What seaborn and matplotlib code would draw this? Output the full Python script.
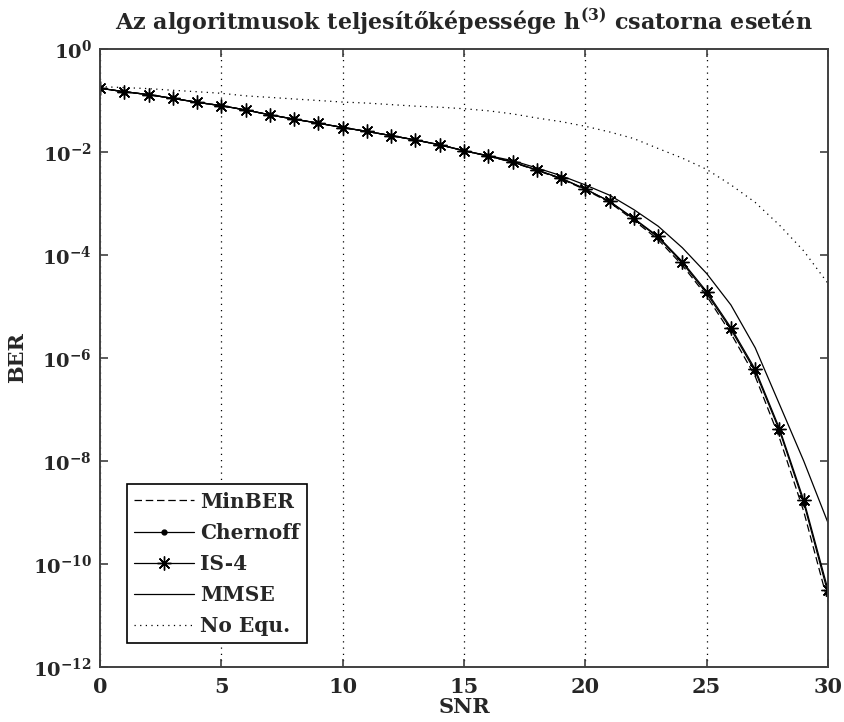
import math
import matplotlib
matplotlib.use("Agg")
import matplotlib.pyplot as plt
import matplotlib.ticker as mticker
import seaborn as sns
import pandas as pd

# === Data ===
snr = list(range(0, 31))

ber_minber = [0.173, 0.148, 0.130, 0.110, 0.0923, 0.0793, 0.0655, 0.0527, 0.0434, 0.0363,
              0.0299, 0.0251, 0.0208, 0.0171, 0.0138, 0.0106, 8.3e-3, 6.3e-3, 4.4e-3, 3.0e-3,
              1.85e-3, 1.05e-3, 4.7e-4, 2.0e-4, 6.3e-5, 1.6e-5, 3.0e-6, 4.4e-7, 2.8e-8, 1.05e-9,
              1.8e-11]
ber_chernoff = [0.173, 0.148, 0.130, 0.110, 0.0923, 0.0793, 0.0655, 0.0527, 0.0434, 0.0363,
                0.0299, 0.0251, 0.0208, 0.0171, 0.0138, 0.0106, 8.36e-3, 6.4e-3, 4.47e-3, 3.09e-3,
                1.9e-3, 1.1e-3, 5.0e-4, 2.2e-4, 7.0e-5, 1.8e-5, 3.6e-6, 5.5e-7, 3.9e-8, 1.55e-9,
                2.7e-11]
ber_is4 = [0.173, 0.148, 0.130, 0.110, 0.0923, 0.0793, 0.0655, 0.0527, 0.0434, 0.0363,
           0.0299, 0.0251, 0.0208, 0.0171, 0.0138, 0.0106, 8.36e-3, 6.4e-3, 4.47e-3, 3.09e-3,
           1.91e-3, 1.1e-3, 5.13e-4, 2.29e-4, 7.41e-5, 1.95e-5, 3.89e-6, 6.03e-7, 4.27e-8, 1.74e-9,
           3.16e-11]
ber_mmse = [0.173, 0.148, 0.130, 0.110, 0.0923, 0.0793, 0.0655, 0.0527, 0.0434, 0.0363,
            0.0299, 0.0251, 0.0208, 0.0171, 0.0138, 0.0106, 8.5e-3, 6.8e-3, 4.9e-3, 3.47e-3,
            2.29e-3, 1.45e-3, 7.6e-4, 3.63e-4, 1.38e-4, 4.37e-5, 1.07e-5, 1.58e-6, 1.26e-7, 1.0e-8,
            6.3e-10]
ber_noeq = [0.186, 0.178, 0.170, 0.158, 0.148, 0.138, 0.123, 0.115, 0.107, 0.100,
            0.0933, 0.0891, 0.0832, 0.0776, 0.0741, 0.0692, 0.0631, 0.0550, 0.0457, 0.0389,
            0.0316, 0.0245, 0.0182, 0.0117, 7.6e-3, 4.6e-3, 2.3e-3, 1.05e-3, 3.8e-4, 1.2e-4,
            2.8e-5]

series_names = ["MinBER", "Chernoff", "IS-4", "MMSE", "No Equ."]
series_values = [ber_minber, ber_chernoff, ber_is4, ber_mmse, ber_noeq]
series_styles = [
    dict(linestyle=(0, (6, 3)), marker=None),
    dict(linestyle="-", marker="o", markersize=3.5),
    dict(linestyle="-", marker=(8, 2, 0), markersize=10),   # asterisk, like matlab '*'
    dict(linestyle="-", marker=None),
    dict(linestyle=(0, (1, 3.5)), marker=None),
]

# === Style ===
sns.set_style("ticks")
plt.rcParams["font.family"] = ["DejaVu Serif"]
plt.rcParams["font.weight"] = "bold"
plt.rcParams["mathtext.fontset"] = "dejavuserif"

fig = plt.figure(figsize=(8.44, 7.22), dpi=100)
ax = fig.add_axes([100 / 844, 1 - 667 / 722, 728 / 844, 618 / 722])

for name, vals, st in zip(series_names, series_values, series_styles):
    df = pd.DataFrame({"SNR": snr, "BER": vals})
    sns.lineplot(data=df, x="SNR", y="BER", ax=ax, color="black", linewidth=0.9,
                 label=name, markeredgewidth=1.0, markeredgecolor="black",
                 markerfacecolor="black", **st)

ax.set_yscale("log")
ax.set_xlim(0, 30)
ax.set_ylim(1e-12, 1)
ax.set_xticks(range(0, 31, 5))
ax.yaxis.set_major_locator(mticker.FixedLocator([10.0 ** -k for k in range(0, 13, 2)]))
ax.yaxis.set_minor_locator(mticker.NullLocator())
ax.yaxis.set_major_formatter(mticker.FuncFormatter(
    lambda v, p: r"$\mathbf{10^{%d}}$" % round(math.log10(v))))
ax.xaxis.set_major_formatter(mticker.FuncFormatter(lambda v, p: "%d" % v))

ax.tick_params(direction="in", length=6, width=1.2, top=True, right=True,
               color="#404040")
ax.tick_params(axis="x", labelsize=15, pad=7)
ax.tick_params(axis="y", labelsize=14, pad=6)
for lab in ax.get_xticklabels() + ax.get_yticklabels():
    lab.set_fontweight("bold")
for s in ax.spines.values():
    s.set_color("#404040")
    s.set_linewidth(1.4)

ax.xaxis.grid(True, linestyle=(0, (1, 4)), color="black", linewidth=0.9)
ax.yaxis.grid(False)

ax.set_xlabel("SNR", fontsize=15, fontweight="bold", labelpad=0)
ax.set_ylabel("BER", fontsize=15, fontweight="bold", labelpad=4)
ax.set_title(r"Az algoritmusok teljesítőképessége h$^{\mathbf{(3)}}$ csatorna esetén",
             fontsize=16, fontweight="bold", pad=14)

leg = ax.legend(loc="lower left", bbox_to_anchor=(0.037, 0.039), borderaxespad=0,
                frameon=True, fancybox=False, edgecolor="black", framealpha=1,
                prop=dict(family="DejaVu Serif", weight="bold", size=14.5),
                handlelength=3.0, handletextpad=0.3, labelspacing=0.55,
                borderpad=0.35)
leg.get_frame().set_linewidth(1.2)

plt.savefig("out.png", dpi=100)
plt.close()
